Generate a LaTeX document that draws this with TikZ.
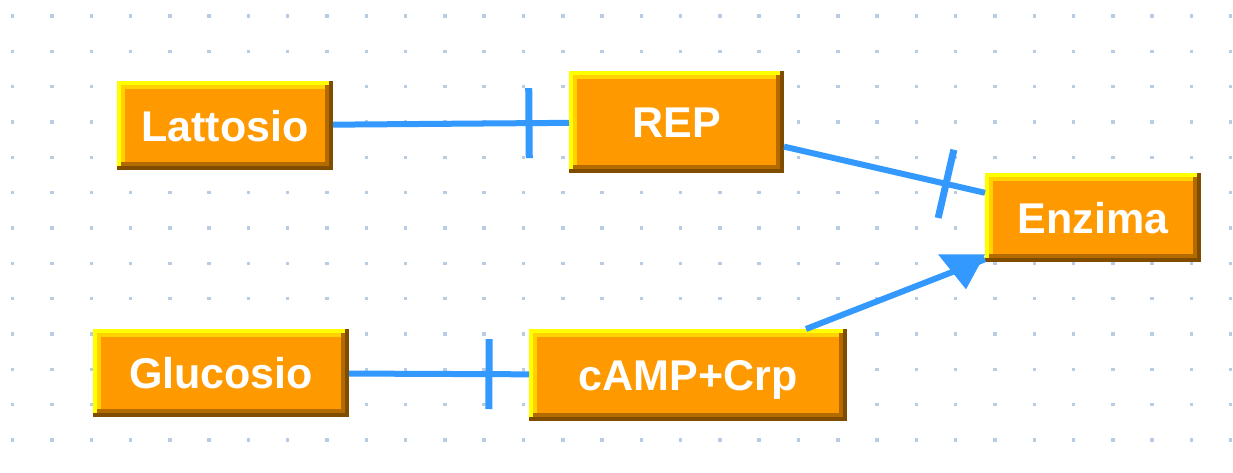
\documentclass[tikz,border=0pt]{standalone}
\usepackage{fontspec}
\setmainfont{Liberation Sans}
\usetikzlibrary{decorations.markings}
\definecolor{boxface}{RGB}{255,153,0}
\definecolor{bevhi}{RGB}{255,255,0}
\definecolor{bevgold}{RGB}{255,210,0}
\definecolor{bevshade}{RGB}{179,107,0}
\definecolor{bevdark}{RGB}{128,76,0}
\definecolor{linkblue}{RGB}{51,153,255}
\definecolor{griddot}{RGB}{184,204,228}
\tikzset{
  gene/.style = {
    fill=boxface, inner sep=0pt, outer sep=0pt,
    text=white, font=\bfseries\fontsize{43}{43}\selectfont,
    text height=31pt, text depth=0pt,
    path picture={
      \coordinate (bsw) at (path picture bounding box.south west);
      \coordinate (bne) at (path picture bounding box.north east);
      \fill[bevdark] (bsw) rectangle (bne);
      \fill[bevhi] ([yshift=4pt]bsw) rectangle ([xshift=-4pt]bne);
      \fill[bevshade] ([xshift=4pt,yshift=4pt]bsw) rectangle ([xshift=-4pt,yshift=-4pt]bne);
      \fill[bevgold] ([xshift=4pt,yshift=8pt]bsw) rectangle ([xshift=-8pt,yshift=-4pt]bne);
      \fill[boxface] ([xshift=8pt,yshift=8pt]bsw) rectangle ([xshift=-8pt,yshift=-8pt]bne);
    }
  },
  link/.style = {draw=linkblue, line width=6pt},
  inhibit/.style = {
    link, postaction={decorate},
    decoration={markings,
      mark=at position -40pt with {\draw[linkblue,line width=7pt] (0,-35pt) -- (0,35pt);}}
  }
}

\begin{document}
\begin{tikzpicture}[x=1pt,y=-1pt]
  \pgfmathsetmacro{\dx}{39.29};
  \pgfmathsetmacro{\dy}{35.33};
  \useasboundingbox (0,0) rectangle (1233,472);
  % grid
  \foreach \i in {0,...,31}
    \foreach \j in {0,...,12}
      \fill[griddot] ({12.7+\dx*\i-1.75},{16+\dy*\j-1.75}) rectangle ++(3.5,3.5);
  % genes
  \node[gene, minimum width=216pt, minimum height=89pt] (latt) at (225,125.5) {Lattosio};
  \node[gene, minimum width=215pt, minimum height=102pt] (rep) at (676.5,122) {REP};
  \node[gene, minimum width=216pt, minimum height=89pt] (enz) at (1093,217.5) {Enzima};
  \node[gene, minimum width=256pt, minimum height=88pt] (gluc) at (221,373) {Glucosio};
  \node[gene, minimum width=318pt, minimum height=92pt] (camp) at (688,375) {cAMP+Crp};
  % links
  \draw[inhibit] (latt) -- (rep);
  \draw[inhibit] (rep) -- (enz);
  \draw[inhibit] (gluc) -- (camp);
  \draw[link] (camp) -- (enz) coordinate[pos=1] (tipend);
  \fill[linkblue] (tipend) ++(-47,-5) -- ++(47,0) -- ++(-19,35) -- cycle;
\end{tikzpicture}
\end{document}
